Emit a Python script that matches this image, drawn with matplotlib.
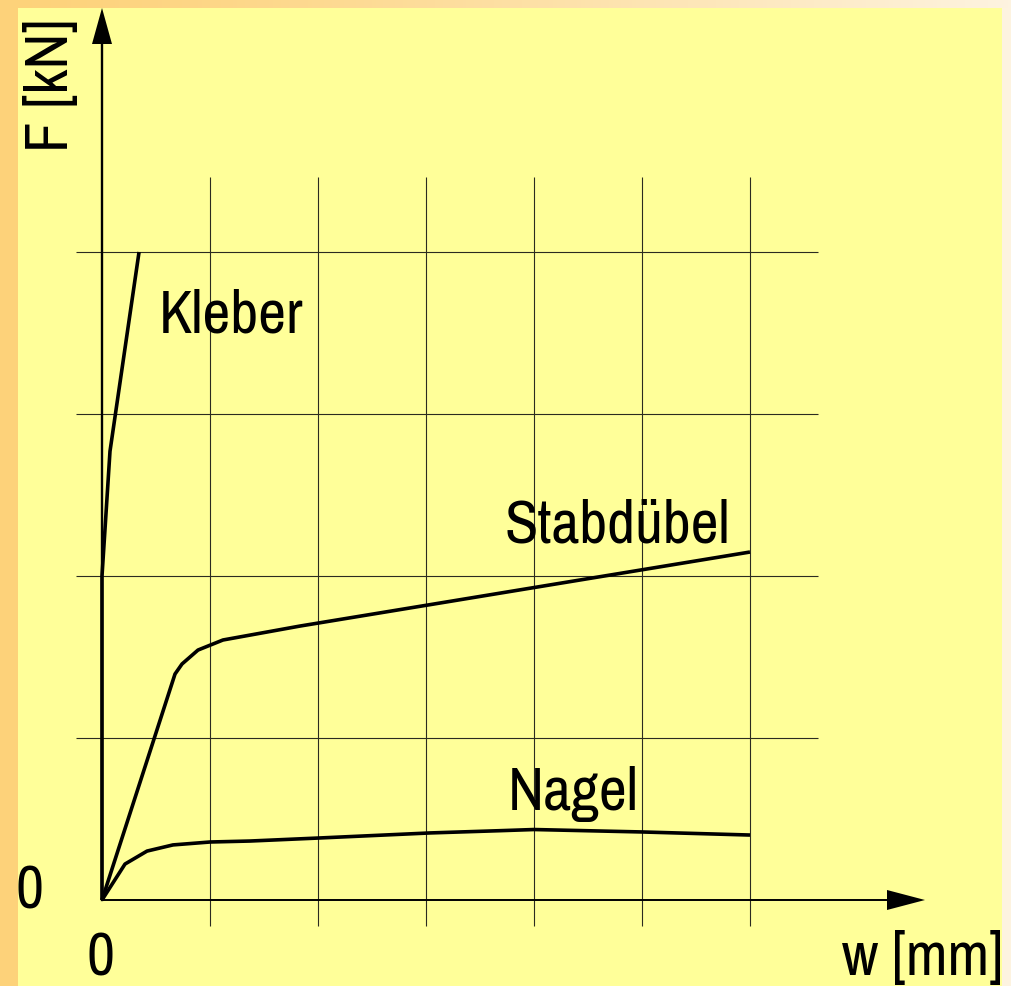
"""Kraft-Verschiebungs-Diagramm: Kleber, Stabdübel, Nagel."""

import matplotlib
matplotlib.use("Agg")
import matplotlib.pyplot as plt
import numpy as np
from matplotlib.patches import Rectangle

# data: x in grid units of w, y in grid units of F
kleber_w = [0.0, 0.0, 0.074, 0.343]
kleber_f = [0.0, 2.0, 2.77, 4.0]

stab_w = [0.0, 0.676, 0.741, 0.889, 1.120, 1.833, 6.0]
stab_f = [0.0, 1.395, 1.457, 1.543, 1.605, 1.691, 2.148]

nagel_w = [0.0, 0.213, 0.417, 0.657, 1.0, 1.37, 2.02, 3.04, 3.69, 4.0, 5.0, 6.0]
nagel_f = [0.0, 0.222, 0.302, 0.340, 0.358, 0.364, 0.383, 0.414, 0.428, 0.435, 0.420, 0.401]

grid_x = [1, 2, 3, 4, 5, 6]
grid_y = [1, 2, 3, 4]

labels = {"Kleber": (0.53, 3.51), "Stabdübel": (3.73, 2.216), "Nagel": (3.76, 0.56)}

W, H = 1012, 987
X0, Y0 = 102, 901        # origin in pixels
SX, SY = 108, 162        # pixels per grid unit

YELLOW = "#FFFF99"
ORANGE = "#FDD27A"
CREAM = "#FDF3E0"
FONT = ["Archivo Narrow", "Liberation Sans", "DejaVu Sans"]
FS = 44


def px(x, y):
    return (x - X0) / SX, (Y0 - y) / SY


fig = plt.figure(figsize=(W / 100, H / 100), dpi=100)
fig.patch.set_facecolor(YELLOW)

# frame around the panel
bg = fig.add_axes([0, 0, 1, 1], zorder=-1)
bg.axis("off")
grad = np.linspace(0, 1, 256)[None, :, None]
c0 = np.array(matplotlib.colors.to_rgb(ORANGE))
c1 = np.array(matplotlib.colors.to_rgb(CREAM))
bg.imshow(c0 + (c1 - c0) * grad ** 1.3, extent=(0, W, 9, 0), aspect="auto")
bg.add_patch(Rectangle((0, 0), 18, H, color=ORANGE, lw=0))
bg.add_patch(Rectangle((1002, 9), 10, H, color=CREAM, lw=0))
bg.set_xlim(0, W)
bg.set_ylim(H, 0)

ax = fig.add_axes([0, 0, 1, 1])
ax.set_xlim(-X0 / SX, (W - X0) / SX)
ax.set_ylim(-(H - Y0) / SY, Y0 / SY)
ax.axis("off")

# grid
gx0, gx1 = px(76, 0)[0], px(818, 0)[0]
gy0, gy1 = px(0, 927)[1], px(0, 178)[1]
ax.vlines(grid_x, gy0, gy1, color="#2b2b20", lw=0.8)
ax.hlines(grid_y, gx0, gx1, color="#2b2b20", lw=0.8)

# axes with arrow heads
ytip = px(0, 9)[1]
yhead = 36 / SY
ax.plot([0, 0], [0, ytip - yhead], color="black", lw=1.7)
ax.fill([-10 / SX, 10 / SX, 0], [ytip - yhead, ytip - yhead, ytip], color="black", lw=0)
xtip = px(925, 0)[0]
xhead = 38 / SX
ax.plot([0, xtip - xhead], [0, 0], color="black", lw=1.4)
ax.fill([xtip - xhead, xtip - xhead, xtip], [-10 / SY, 10 / SY, 0], color="black", lw=0)

# curves
for w, f in [(kleber_w, kleber_f), (stab_w, stab_f), (nagel_w, nagel_f)]:
    ax.plot(w, f, color="black", lw=2.6, solid_joinstyle="round", solid_capstyle="butt")

for name, (lx, ly) in labels.items():
    ax.text(lx, ly, name, family=FONT, fontsize=FS, ha="left", va="baseline")

# axis labels
fx, fy = px(68, 152)
ax.text(fx, fy, "F [kN]", family=FONT, fontsize=FS, rotation=90,
        ha="left", va="baseline", rotation_mode="anchor")
zx, zy = px(30, 892)
ax.text(zx, zy, "0", family=FONT, fontsize=FS, ha="center", va="center")
zx, zy = px(101, 959)
ax.text(zx, zy, "0", family=FONT, fontsize=FS, ha="center", va="center")
wx, wy = px(1003, 975)
ax.text(wx, wy, "w [mm]", family=FONT, fontsize=FS, ha="right", va="baseline")

fig.savefig("out.png", dpi=100, facecolor=fig.get_facecolor())
